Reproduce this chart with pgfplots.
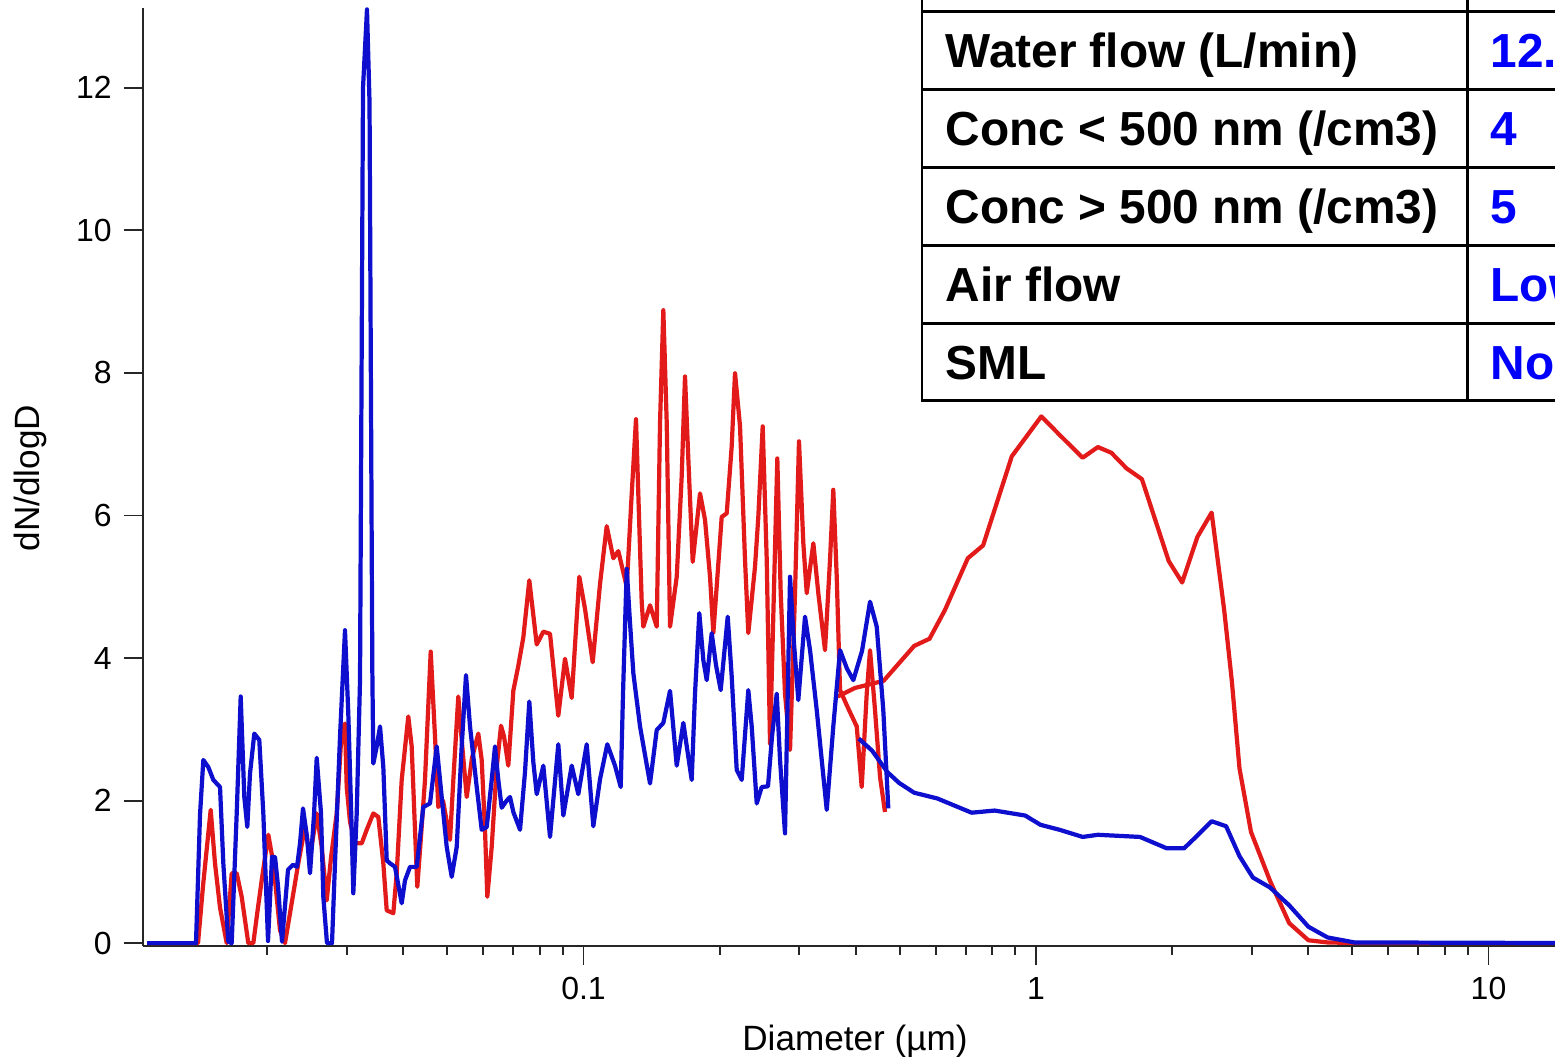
\documentclass[border=0pt]{standalone}
\usepackage{pgfplots}
\pgfplotsset{compat=1.18}
\usepackage{fontspec}
\setmainfont{Liberation Sans}
\definecolor{pred}{RGB}{226,26,26}
\definecolor{pblue}{RGB}{14,14,206}
\definecolor{tblue}{RGB}{0,0,250}
\begin{document}
\begin{tikzpicture}
\begin{axis}[
  at={(1.43cm,1.11cm)}, anchor=south west,
  scale only axis, width=14.57cm, height=9.38cm,
  xmin=-1.9735, xmax=1.2464, ymin=-0.04, ymax=13.12,
  axis x line*=bottom, axis y line*=left,
  axis line style={line width=0.55pt, black!85},
  xtick={-1,0,1}, xticklabels={0.1,1,10},
  minor xtick={-1.69897,-1.52288,-1.39794,-1.30103,-1.22185,-1.15490,-1.09691,-1.04576,
               -0.69897,-0.52288,-0.39794,-0.30103,-0.22185,-0.15490,-0.09691,-0.04576,
               0.30103,0.47712,0.60206,0.69897,0.77815,0.84510,0.90309,0.95424},
  ytick={0,2,4,6,8,10,12},
  tick align=outside,
  major tick length=0.19cm, minor tick length=0.09cm,
  every tick/.style={line width=0.55pt, black!85},
  /pgf/number format/assume math mode=true,
  tick label style={font=\fontsize{9.1}{11}\selectfont},
  line join=round,
]
% red, SMPS range
\addplot[pred, line width=1.2pt] coordinates {
(-1.9646,0) (-1.8519,0) (-1.8409,0.8) (-1.8239,1.87) (-1.8144,1.12) (-1.8033,0.5) (-1.7885,0) (-1.7775,0.98) (-1.7664,0.98) (-1.7554,0.65) (-1.7408,0) (-1.7297,0) (-1.7215,0.4) (-1.7112,0.88) (-1.6965,1.52) (-1.6855,1.12) (-1.6707,0.18) (-1.6597,0) (-1.6486,0.42) (-1.6303,1.12) (-1.6155,1.63) (-1.6044,1.21) (-1.5896,1.82) (-1.5786,1.35) (-1.5675,0.6) (-1.5580,1.2) (-1.5454,1.82) (-1.5343,2.99) (-1.5271,3.08) (-1.5233,2.19) (-1.5160,1.7) (-1.5050,1.40) (-1.4902,1.40) (-1.4785,1.6) (-1.4645,1.82) (-1.4535,1.77) (-1.4424,1.12) (-1.4349,0.46) (-1.4203,0.42) (-1.4128,0.98) (-1.4018,2.29) (-1.3872,3.18) (-1.3797,2.76) (-1.3724,1.59) (-1.3673,0.79) (-1.3591,1.5) (-1.3503,2.29) (-1.3377,4.09) (-1.3282,2.9) (-1.3209,1.91) (-1.3105,2.0) (-1.2950,1.45) (-1.2877,2.29) (-1.2767,3.46) (-1.2685,2.8) (-1.2581,2.05) (-1.2464,2.6) (-1.2325,2.94) (-1.2250,2.57) (-1.2177,1.59) (-1.2126,0.65) (-1.2029,1.35) (-1.1918,2.47) (-1.1823,3.05) (-1.1757,2.9) (-1.1662,2.49) (-1.1551,3.54) (-1.1441,3.89) (-1.1330,4.29) (-1.1198,5.09) (-1.1034,4.19) (-1.0888,4.37) (-1.0740,4.34) (-1.0557,3.19) (-1.0409,3.99) (-1.0261,3.44) (-1.0093,5.14) (-0.9967,4.69) (-0.9797,3.94) (-0.9635,5.04) (-0.9487,5.85) (-0.9341,5.40) (-0.9231,5.50) (-0.9045,5.0) (-0.8935,6.30) (-0.8840,7.35) (-0.8789,6.30) (-0.8714,4.79) (-0.8678,4.44) (-0.8530,4.74) (-0.8382,4.44) (-0.8309,7.30) (-0.8236,8.88) (-0.8161,7.30) (-0.8088,4.44) (-0.7940,5.14) (-0.7830,6.55) (-0.7757,7.95) (-0.7684,6.80) (-0.7587,5.35) (-0.7425,6.31) (-0.7315,5.94) (-0.7204,5.14) (-0.7131,4.35) (-0.6946,5.98) (-0.6835,6.03) (-0.6725,6.97) (-0.6652,8.0) (-0.6541,7.25) (-0.6431,5.38) (-0.6358,4.35) (-0.6210,5.28) (-0.6137,5.98) (-0.6040,7.25) (-0.5951,5.38) (-0.5878,2.80) (-0.5717,6.80) (-0.5642,4.91) (-0.5547,3.50) (-0.5436,2.71) (-0.5326,4.91) (-0.5238,7.04) (-0.5142,5.61) (-0.5067,4.91) (-0.4921,5.61) (-0.4811,4.91) (-0.4663,4.11) (-0.4552,5.38) (-0.4480,6.36) (-0.4404,5.14) (-0.4331,3.55) (-0.4155,3.3) (-0.3962,3.04) (-0.3852,2.19) (-0.3741,3.50) (-0.3668,4.11) (-0.3558,3.27) (-0.3447,2.33) (-0.3337,1.84)
};
% red, APS range
\addplot[pred, line width=1.2pt] coordinates {
(-0.4382,3.46) (-0.4002,3.58) (-0.3368,3.68) (-0.2692,4.17) (-0.2354,4.27) (-0.2015,4.67) (-0.1507,5.40) (-0.1169,5.58) (-0.0535,6.83) (0.0117,7.39) (0.0522,7.13) (0.1030,6.81) (0.1368,6.96) (0.1664,6.88) (0.2002,6.66) (0.2340,6.51) (0.2933,5.36) (0.3229,5.06) (0.3567,5.70) (0.3881,6.04) (0.4159,4.67) (0.4327,3.68) (0.4497,2.45) (0.4751,1.56) (0.5174,0.87) (0.5596,0.28) (0.6020,0.04) (0.6442,0.01) (0.7160,0) (1.2464,0)
};
% blue, SMPS range
\addplot[pblue, line width=1.2pt] coordinates {
(-1.9646,0) (-1.8564,0) (-1.8475,1.8) (-1.8402,2.57) (-1.8292,2.47) (-1.8181,2.29) (-1.8033,2.19) (-1.7960,1.12) (-1.7850,0.02) (-1.7775,0) (-1.7664,1.82) (-1.7576,3.46) (-1.7496,2.05) (-1.7430,1.63) (-1.7370,2.38) (-1.7275,2.94) (-1.7165,2.85) (-1.7076,1.82) (-1.6972,0.03) (-1.6884,1.21) (-1.6818,1.21) (-1.6751,0.8) (-1.6663,0.02) (-1.6530,1.03) (-1.6420,1.1) (-1.6331,1.07) (-1.6265,1.4) (-1.6199,1.89) (-1.6110,1.49) (-1.6044,0.98) (-1.5956,1.8) (-1.5896,2.6) (-1.5801,1.82) (-1.5750,0.65) (-1.5669,0) (-1.5558,0) (-1.5492,1.12) (-1.5381,2.9) (-1.5271,4.39) (-1.5198,3.22) (-1.5123,1.59) (-1.5087,0.7) (-1.5012,1.82) (-1.4939,3.69) (-1.4873,12.0) (-1.4785,13.1) (-1.4729,11.8) (-1.4667,3.83) (-1.4645,2.52) (-1.4570,2.76) (-1.4497,3.04) (-1.4424,2.47) (-1.4349,1.16) (-1.4276,1.12) (-1.4166,1.07) (-1.4018,0.56) (-1.3945,0.88) (-1.3834,1.07) (-1.3686,1.07) (-1.3540,1.91) (-1.3392,1.96) (-1.3244,2.76) (-1.3134,2.05) (-1.3023,1.35) (-1.2913,0.93) (-1.2802,1.35) (-1.2692,2.76) (-1.2597,3.76) (-1.2508,3.04) (-1.2360,2.19) (-1.2250,1.59) (-1.2139,1.63) (-1.2029,2.29) (-1.1956,2.76) (-1.1883,2.29) (-1.1808,1.9) (-1.1697,2.0) (-1.1624,2.05) (-1.1551,1.84) (-1.1403,1.59) (-1.1293,2.4) (-1.1198,3.39) (-1.1109,2.54) (-1.1034,2.09) (-1.0888,2.49) (-1.0740,1.49) (-1.0557,2.79) (-1.0446,1.79) (-1.0261,2.49) (-1.0115,2.09) (-0.9929,2.79) (-0.9783,1.64) (-0.9635,2.3) (-0.9474,2.79) (-0.9304,2.49) (-0.9178,2.19) (-0.9127,3.5) (-0.9045,5.25) (-0.8972,4.49) (-0.8899,3.79) (-0.8751,3.04) (-0.8530,2.24) (-0.8382,2.99) (-0.8236,3.09) (-0.8088,3.54) (-0.7940,2.49) (-0.7794,3.09) (-0.7609,2.29) (-0.7536,3.50) (-0.7441,4.63) (-0.7352,3.97) (-0.7277,3.69) (-0.7167,4.35) (-0.7072,3.9) (-0.6968,3.55) (-0.6813,4.58) (-0.6725,3.74) (-0.6614,2.43) (-0.6504,2.29) (-0.6358,3.55) (-0.6283,3.04) (-0.6172,1.96) (-0.6062,2.19) (-0.5923,2.2) (-0.5834,2.9) (-0.5730,3.50) (-0.5657,2.57) (-0.5547,1.54) (-0.5436,5.14) (-0.5348,4.2) (-0.5253,3.41) (-0.5105,4.58) (-0.4994,4.11) (-0.4846,3.27) (-0.4625,1.87) (-0.4480,3.04) (-0.4331,4.11) (-0.4177,3.85) (-0.4037,3.69) (-0.3845,4.1) (-0.3668,4.79) (-0.3520,4.44) (-0.3375,3.27) (-0.3264,1.89)
};
% blue, APS range
\addplot[pblue, line width=1.2pt] coordinates {
(-0.3918,2.87) (-0.3622,2.70) (-0.3284,2.40) (-0.3030,2.25) (-0.2692,2.11) (-0.2183,2.03) (-0.1423,1.83) (-0.0915,1.86) (-0.0239,1.79) (0.0099,1.66) (0.0522,1.59) (0.1030,1.49) (0.1368,1.52) (0.2298,1.49) (0.2890,1.33) (0.3271,1.33) (0.3567,1.51) (0.3881,1.71) (0.4201,1.64) (0.4497,1.22) (0.4793,0.92) (0.5174,0.78) (0.5596,0.53) (0.6020,0.23) (0.6442,0.08) (0.7034,0.01) (1.2464,0)
};
\end{axis}
% axis labels
\node[font=\fontsize{10}{12}\selectfont, anchor=base] at (8.55,0.06) {Diameter (µm)};
\node[font=\fontsize{10}{12}\selectfont, rotate=90] at (0.30,5.79) {dN/dlogD};
% parameter table (cut by the picture's edge, as in the reference)
\fill[white] (9.22,6.56) rectangle (17,11.6);
\begin{scope}[line width=0.85pt, line cap=rect]
\draw (9.22,11.6) -- (9.22,6.56) -- (17,6.56);
\foreach \yy in {7.33,8.11,8.89,9.67,10.45} \draw (9.22,\yy) -- (17,\yy);
\draw (14.67,11.6) -- (14.67,6.56);
\end{scope}
\begin{scope}[every node/.style={anchor=base west, inner sep=0pt, font=\fontsize{13.6}{16}\selectfont\bfseries}]
\node at (9.45,9.89) {Water flow (L/min)};
\node at (9.45,9.11) {Conc < 500 nm (/cm3)};
\node at (9.45,8.33) {Conc > 500 nm (/cm3)};
\node at (9.45,7.55) {Air flow};
\node at (9.45,6.77) {SML};
\node[text=tblue] at (14.90,9.89) {12.5};
\node[text=tblue] at (14.90,9.11) {4};
\node[text=tblue] at (14.90,8.33) {5};
\node[text=tblue] at (14.90,7.55) {Low};
\node[text=tblue] at (14.90,6.77) {No};
\end{scope}
\pgfresetboundingbox
\useasboundingbox (0,0) rectangle (15.55,10.57);
\end{tikzpicture}
\end{document}
